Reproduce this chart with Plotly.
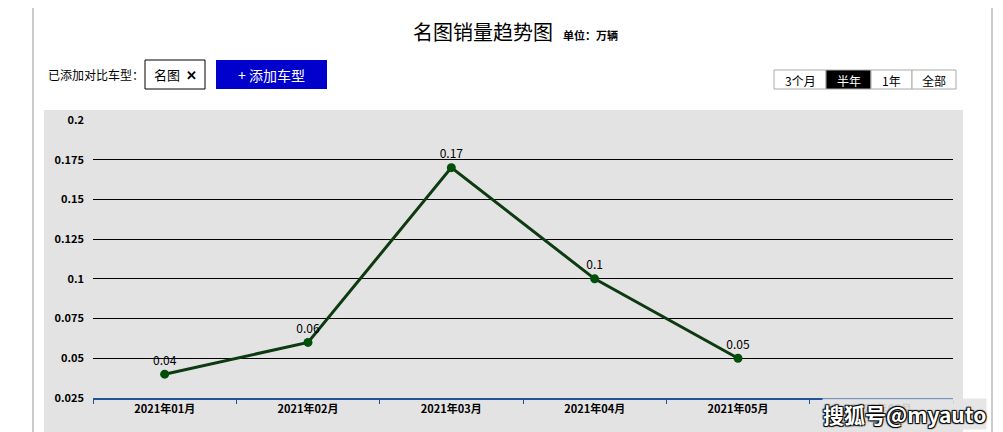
import plotly.graph_objects as go

months = ["2021年01月", "2021年02月", "2021年03月", "2021年04月", "2021年05月", "2021年06月"]
sales = [0.04, 0.06, 0.17, 0.1, 0.05, None]
labels = ["0.04", "0.06", "0.17", "0.1", "0.05", ""]
ranges = ["3个月", "半年", "1年", "全部"]

# page has an 8px body margin, so the figure is a bit smaller than the window
OFF = 8
W, H = 995, 424
L, R, T, B = 85, 50, 112, 34
FONT = "Noto Sans CJK SC"


def px(x):
    # screen pixel -> paper x
    return (x - OFF - L) / (W - L - R)


def py(y):
    return (H - B - (y - OFF)) / (H - T - B)


fig = go.Figure()
fig.add_trace(go.Scatter(
    x=months, y=sales, mode="lines+markers+text",
    text=labels, textposition="top center",
    textfont=dict(size=12, color="black", family=FONT),
    line=dict(color="#0d3a10", width=3),
    marker=dict(size=9, color="#00500a"),
    cliponaxis=False, showlegend=False,
))

shapes = []
# page borders
shapes.append(dict(type="line", xref="paper", yref="paper", x0=px(33), x1=px(33), y0=py(0), y1=py(440),
                   line=dict(color="#bbbbbb", width=1.5)))
shapes.append(dict(type="line", xref="paper", yref="paper", x0=px(992), x1=px(992), y0=py(0), y1=py(440),
                   line=dict(color="#bbbbbb", width=1.5)))
# gray chart panel
shapes.append(dict(type="rect", xref="paper", yref="paper", x0=px(44), x1=px(963), y0=py(440), y1=py(110),
                   fillcolor="#e3e3e3", line=dict(width=0), layer="below"))
# compare box
shapes.append(dict(type="rect", xref="paper", yref="paper", x0=px(145), x1=px(205), y0=py(89), y1=py(60),
                   fillcolor="white", line=dict(color="black", width=1)))
# blue button
shapes.append(dict(type="rect", xref="paper", yref="paper", x0=px(216), x1=px(327), y0=py(89), y1=py(60),
                   fillcolor="#0000cc", line=dict(width=0)))

annotations = [
    dict(text="名图销量趋势图", x=px(483), y=py(32), font=dict(size=20, color="black", family=FONT)),
    dict(text="<b>单位：万辆</b>", x=px(590), y=py(35), font=dict(size=11, color="black", family=FONT)),
    dict(text="已添加对比车型：", x=px(96), y=py(75), font=dict(size=12, color="black", family=FONT)),
    dict(text="名图  <b>✕</b>", x=px(175), y=py(75), font=dict(size=13, color="black", family=FONT)),
    dict(text="+ 添加车型", x=px(271), y=py(75), font=dict(size=14, color="white", family=FONT)),
    # watermark sits over the last month label
    dict(text="<b>搜狐号@myauto</b>", x=px(904), y=py(414), borderpad=0,
         bgcolor="rgba(227,227,227,0.9)",
         font=dict(size=21, color="white", family=FONT,
                   shadow="1px 1px 1px #000, -1px -1px 1px #000, 1px -1px 1px #000, -1px 1px 1px #000")),
]

# range buttons
edges = [774, 826, 871, 912, 956]
for i, name in enumerate(ranges):
    active = name == "半年"
    shapes.append(dict(type="rect", xref="paper", yref="paper", x0=px(edges[i]), x1=px(edges[i + 1]),
                       y0=py(89), y1=py(70), fillcolor="black" if active else "white",
                       line=dict(color="#aaaaaa", width=1)))
    annotations.append(dict(text=name, x=px((edges[i] + edges[i + 1]) / 2), y=py(80),
                            font=dict(size=12, color="white" if active else "black", family=FONT)))

for a in annotations:
    a.update(xref="paper", yref="paper", showarrow=False, xanchor="center", yanchor="middle")

fig.update_layout(
    width=W, height=H,
    margin=dict(l=L, r=R, t=T, b=B),
    paper_bgcolor="white", plot_bgcolor="rgba(0,0,0,0)",
    shapes=shapes, annotations=annotations,
    font=dict(family=FONT),
    xaxis=dict(range=[-0.5, 5.5], showgrid=False, showline=True, linecolor="#1f5596", linewidth=1.5,
               ticks="outside", tickson="boundaries", ticklen=4, tickcolor="#1f5596",
               tickfont=dict(size=11, color="black", family=FONT, weight="bold"), fixedrange=True),
    yaxis=dict(range=[0.025, 0.2], dtick=0.025, showgrid=True, gridcolor="black", gridwidth=1,
               zeroline=False, ticks="", ticklabelstandoff=8,
               tickfont=dict(size=11, color="black", family=FONT, weight="bold")),
)

fig.write_html("out.html")
